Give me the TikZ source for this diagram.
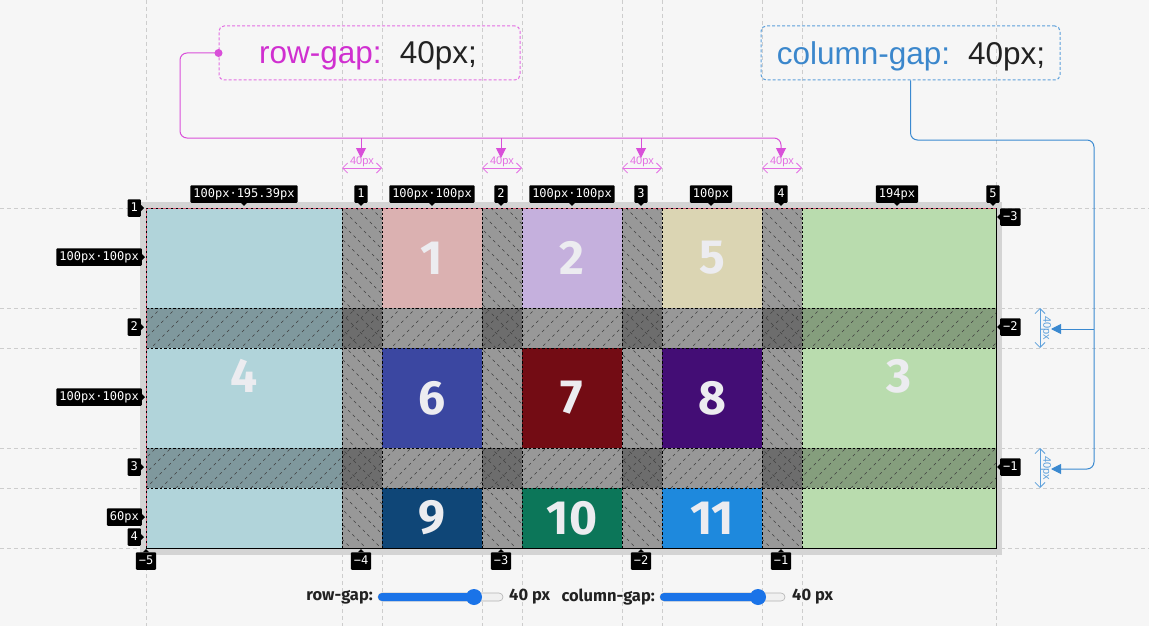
\documentclass[tikz,border=0pt]{standalone}
\usepackage{fontspec}
\setmainfont{Liberation Sans}
\newfontfamily\monof{DejaVu Sans Mono}
\newfontfamily\uif{Fira Sans}
\usetikzlibrary{arrows.meta}
\definecolor{bgc}{HTML}{F6F6F6}
\definecolor{guidec}{HTML}{CDCDCD}
\definecolor{shadowc}{HTML}{D4D4D4}
\definecolor{c1}{HTML}{DBB1B1}
\definecolor{c2}{HTML}{C5B0DD}
\definecolor{c3}{HTML}{B9DCAE}
\definecolor{c4}{HTML}{B1D4DA}
\definecolor{c5}{HTML}{DBD5B3}
\definecolor{c6}{HTML}{3B47A1}
\definecolor{c7}{HTML}{730C14}
\definecolor{c8}{HTML}{430D75}
\definecolor{c9}{HTML}{0F4677}
\definecolor{c10}{HTML}{0C7659}
\definecolor{c11}{HTML}{1E89DD}
\definecolor{numc}{HTML}{ECECF0}
\definecolor{magt}{HTML}{D02FD0}
\definecolor{magl}{HTML}{D94FD9}
\definecolor{magb}{HTML}{E36EE3}
\definecolor{bluet}{HTML}{3B87CC}
\definecolor{bluel}{HTML}{3A89D0}
\definecolor{blueb}{HTML}{5B9FDB}
\definecolor{darkt}{HTML}{222222}
\definecolor{pinkl}{HTML}{E0607A}
\definecolor{sblue}{HTML}{1A73E8}
\begin{document}
\begin{tikzpicture}[x=1pt,y=-1pt,
  guide/.style={draw=guidec, line width=0.7pt, dash pattern=on 4pt off 3pt},
  gapfill/.style={fill=black, fill opacity=0.28},
  hatch/.style={draw=black!75, line width=0.55pt, dash pattern=on 3pt off 3.5pt},
  trk/.style={draw=black, line width=0.7pt, dash pattern=on 2.5pt off 2pt},
  num/.style={text=numc, font=\uif\bfseries\fontsize{48}{48}\selectfont, inner sep=0},
  lbl/.style={fill=black, text=white, font=\monof\fontsize{12}{12}\selectfont, inner xsep=3pt, inner ysep=3pt, text height=9pt, text depth=2.5pt, rounded corners=1pt},
  magbox/.style={draw=magb, line width=1pt, dash pattern=on 3pt off 2pt, rounded corners=5pt, minimum width=301pt, minimum height=54pt},
  bluebox/.style={draw=blueb, line width=1pt, dash pattern=on 3pt off 2pt, rounded corners=5pt, minimum width=299pt, minimum height=54pt},
  boxtext/.style={font=\fontsize{31.5}{31.5}\selectfont, inner sep=0},
  magline/.style={draw=magl, line width=1pt},
  blueline/.style={draw=bluel, line width=1pt},
  tri/.style={-{Triangle[width=10pt,length=10pt]}},
  meas/.style={line width=0.8pt, {Straight Barb[length=5pt,width=10pt]}-{Straight Barb[length=5pt,width=10pt]}},
  uitext/.style={text=darkt, font=\uif\bfseries\fontsize{16.5}{16.5}\selectfont, inner sep=0}
]
\useasboundingbox (0,0) rectangle (1149,626);
\fill[bgc] (0,0) rectangle (1149,626);

% guide lines
\foreach \gx in {146,342,382,482,522,622,662,762,802,996}
  \draw[guide] (\gx,0) -- (\gx,626);
\foreach \gy in {208,308,348,448,488,548}
  \draw[guide] (0,\gy) -- (1149,\gy);

% container shadow
\fill[shadowc] (140,202) rectangle (1002,555);

% cells
\fill[c4] (146,208) rectangle (342,548);
\fill[c3] (802,208) rectangle (996,548);
\fill[c1] (382,208) rectangle (482,308);
\fill[c2] (522,208) rectangle (622,308);
\fill[c5] (662,208) rectangle (762,308);
\fill[c6] (382,348) rectangle (482,448);
\fill[c7] (522,348) rectangle (622,448);
\fill[c8] (662,348) rectangle (762,448);
\fill[c9] (382,488) rectangle (482,548);
\fill[c10] (522,488) rectangle (622,548);
\fill[c11] (662,488) rectangle (762,548);

\node[num] (n1) at (432,258) {1};
\node[num] (n2) at (572,258) {2};
\node[num] (n5) at (712,258) {5};
\node[num] (n4) at (244,376) {4};
\node[num] (n3) at (899,376) {3};
\node[num] (n6) at (432,398) {6};
\node[num] (n7) at (572,398) {7};
\node[num] (n8) at (712,398) {8};
\node[num] (n9) at (432,518) {9};
\node[num] (n10) at (572,518) {10};
\node[num] (n11) at (712,518) {11};

% gaps
\foreach \gx in {342,482,622,762}
  \fill[gapfill] (\gx,208) rectangle (\gx+40,548);
\foreach \gy in {308,448}
  \fill[gapfill] (146,\gy) rectangle (996,\gy+40);

\begin{scope}
  \clip (342,208) rectangle (382,548) (482,208) rectangle (522,548)
        (622,208) rectangle (662,548) (762,208) rectangle (802,548);
  \foreach \i in {-25,...,60}
    \draw[hatch] (146+\i*15,208) -- ++(340,340);
\end{scope}
\begin{scope}
  \clip (146,308) rectangle (996,348) (146,448) rectangle (996,488);
  \foreach \i in {-25,...,60}
    \draw[hatch] (146+\i*15,548) -- ++(340,-340);
\end{scope}

% track lines
\foreach \gx in {342,382,482,522,622,662,762,802}
  \draw[trk] (\gx,208) -- (\gx,548);
\foreach \gy in {308,348,448,488}
  \draw[trk] (146,\gy) -- (996,\gy);

% container border
\draw[black, line width=1pt] (146,548) -- (996,548) -- (996,208);
\draw[pinkl, line width=1pt] (146,548) -- (146,208) -- (996,208);
\draw[black, line width=0.5pt, dash pattern=on 2pt off 3pt] (146,548) -- (146,208) -- (996,208);

% top labels
\node[lbl] (tw1) at (244,194) {100px·195.39px};
\node[lbl] (tn1) at (361,194) {1};
\node[lbl] (tw2) at (432,194) {100px·100px};
\node[lbl] (tn2) at (501,194) {2};
\node[lbl] (tw3) at (572,194) {100px·100px};
\node[lbl] (tn3) at (641,194) {3};
\node[lbl] (tw4) at (711,194) {100px};
\node[lbl] (tn4) at (781,194) {4};
\node[lbl] (tw5) at (897,194) {194px};
\node[lbl] (tn5) at (993,194) {5};
\foreach \n in {tw1,tn1,tw2,tn2,tw3,tn3,tw4,tn4,tw5,tn5}
  \fill (\n.south) ++(-3,0) -- ++(6,0) -- ++(-3,3) -- cycle;

% left labels
\node[lbl, anchor=east] (ln1) at (141,208) {1};
\node[lbl, anchor=east] (lh1) at (142,257) {100px·100px};
\node[lbl, anchor=east] (ln2) at (141,327) {2};
\node[lbl, anchor=east] (lh2) at (142,397) {100px·100px};
\node[lbl, anchor=east] (ln3) at (141,467) {3};
\node[lbl, anchor=east] (lh3) at (142,517) {60px};
\node[lbl, anchor=east] (ln4) at (141,537) {4};
\foreach \n in {ln1,lh1,ln2,lh2,ln3,lh3,ln4}
  \fill (\n.east) ++(0,-3) -- ++(0,6) -- ++(3,-3) -- cycle;

% bottom labels
\node[lbl] (bn5) at (146,561) {−5};
\node[lbl] (bn4) at (361,561) {−4};
\node[lbl] (bn3) at (501,561) {−3};
\node[lbl] (bn2) at (641,561) {−2};
\node[lbl] (bn1) at (781,561) {−1};
\foreach \n in {bn5,bn4,bn3,bn2,bn1}
  \fill (\n.north) ++(-3,0) -- ++(6,0) -- ++(-3,-3) -- cycle;

% right labels
\node[lbl, anchor=west] (rn3) at (1000,217) {−3};
\node[lbl, anchor=west] (rn2) at (1000,327) {−2};
\node[lbl, anchor=west] (rn1) at (1000,467) {−1};
\foreach \n in {rn3,rn2,rn1}
  \fill (\n.west) ++(0,-3) -- ++(0,6) -- ++(-3,-3) -- cycle;

% row-gap annotation
\node[magbox] (rowbox) at (369.5,53) {};
\node[boxtext] (rowtext) at (368,56) {\textcolor{magt}{row-gap:}\hspace{18pt}\textcolor{darkt}{40px;}};
\node[circle, fill=magl, inner sep=0, minimum size=8pt] (rowdot) at (rowbox.west) {};
\coordinate (ma1) at (361,158);
\coordinate (ma2) at (501,158);
\coordinate (ma3) at (641,158);
\coordinate (ma4) at (781,158);
\draw[magline, rounded corners=7pt, tri] (rowdot.center) -- (180,53) -- (180,138) -- (781,138) -- (ma4);
\foreach \m/\xx in {ma1/361,ma2/501,ma3/641}
  \draw[magline, tri] (\xx,138) -- (\m);
\foreach \k/\xx in {1/342,2/482,3/622,4/762}{
  \coordinate (mgl\k) at (\xx,168);
  \coordinate (mgr\k) at (\xx+40,168);
  \draw[meas, draw=magb] (mgl\k) -- (mgr\k);
  \node[text=magb, font=\fontsize{11}{11}\selectfont, inner sep=0] (mgt\k) at (\xx+20,162) {40px};
}

% column-gap annotation
\node[bluebox] (colbox) at (910.5,53) {};
\node[boxtext] (coltext) at (911,56) {\textcolor{bluet}{column-gap:}\hspace{18pt}\textcolor{darkt}{40px;}};
\coordinate (ba1) at (1051,329);
\coordinate (ba2) at (1051,469);
\draw[blueline, rounded corners=7pt, tri] (colbox.south) -- (910.5,140) -- (1094,140) -- (1094,469) -- (ba2);
\draw[blueline, tri] (1094,329) -- (ba1);
\foreach \k/\yy in {1/308,2/448}{
  \coordinate (bgt\k) at (1040,\yy);
  \coordinate (bgb\k) at (1040,\yy+40);
  \draw[meas, draw=blueb] (bgt\k) -- (bgb\k);
  \node[text=blueb, font=\fontsize{11}{11}\selectfont, inner sep=0, rotate=-90] (bgx\k) at (1046,\yy+20) {40px};
}

% sliders
\node[uitext, anchor=east] (rglab) at (373,597) {row-gap:};
\draw[fill=black!6, draw=black!30, line width=0.6pt, rounded corners=4pt] (378,593) rectangle (503,601);
\fill[sblue, rounded corners=4pt] (378,593) rectangle (476,601);
\node[circle, fill=sblue, inner sep=0, minimum size=16pt] (rgthumb) at (474,597) {};
\node[uitext, anchor=west] (rgval) at (509,597) {40 px};
\node[uitext, anchor=east] (cglab) at (655,597) {column-gap:};
\draw[fill=black!6, draw=black!30, line width=0.6pt, rounded corners=4pt] (660,593) rectangle (785,601);
\fill[sblue, rounded corners=4pt] (660,593) rectangle (760,601);
\node[circle, fill=sblue, inner sep=0, minimum size=16pt] (cgthumb) at (758,597) {};
\node[uitext, anchor=west] (cgval) at (792,597) {40 px};
\end{tikzpicture}
\end{document}
